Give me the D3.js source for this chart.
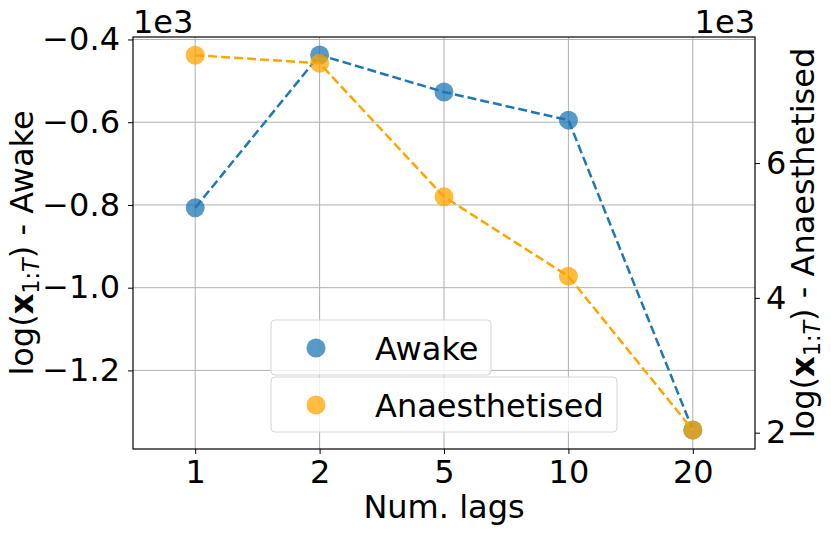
<!DOCTYPE html>
<html><head><meta charset="utf-8">
<script src="https://cdn.jsdelivr.net/npm/d3@7"></script>
<style>body{margin:0;background:#fff}svg{display:block}text{font-family:"DejaVu Sans",sans-serif}</style>
</head><body><svg id="c" width="831" height="534"></svg>
<script>
const lags = ["1","2","5","10","20"];
const awake = [-0.807, -0.4375, -0.527, -0.595, -1.344];      // x1e3
const anaes = [7.60, 7.48, 5.50, 4.32, 2.04];                 // x1e3
const leftTicks = [-1.2, -1.0, -0.8, -0.6, -0.4];
const rightTicks = [2, 4, 6];

const W=831,H=534, L=133, R=755, T=37, B=449;
const fs=32;
const svg=d3.select("#c");
const x=d3.scalePoint().domain(lags).range([L,R]).padding(0.5);
const yL=d3.scaleLinear().domain([-1.39,-0.394]).range([B,T]);
const yR=d3.scaleLinear().domain([1.758,7.87]).range([B,T]);

// grid
const g=svg.append("g");
g.selectAll(".gx").data(lags).join("line").attr("x1",d=>x(d)).attr("x2",d=>x(d)).attr("y1",T).attr("y2",B).attr("stroke","#b0b0b0").attr("stroke-width",1);
g.selectAll(".gy").data(leftTicks).join("line").attr("x1",L).attr("x2",R).attr("y1",d=>yL(d)).attr("y2",d=>yL(d)).attr("stroke","#b0b0b0").attr("stroke-width",1);

// axes
const fmtL=d=>(d<0?"\u2212":"")+Math.abs(d).toFixed(1);
const ax=svg.append("g").attr("transform",`translate(0,${B})`).call(d3.axisBottom(x).tickSize(5).tickPadding(5));
const ayl=svg.append("g").attr("transform",`translate(${L},0)`).call(d3.axisLeft(yL).tickValues(leftTicks).tickFormat(fmtL).tickSize(5).tickPadding(8));
const ayr=svg.append("g").attr("transform",`translate(${R},0)`).call(d3.axisRight(yR).tickValues(rightTicks).tickFormat(d3.format("d")).tickSize(5).tickPadding(6));
[ax,ayl,ayr].forEach(a=>{a.select(".domain").remove();a.selectAll("text").attr("font-size",fs).attr("fill","#000").attr("font-family","DejaVu Sans");a.selectAll("line").attr("stroke","#000").attr("stroke-width",1);});
ax.selectAll("text").attr("y",34).attr("dy",0);
svg.append("rect").attr("x",L).attr("y",T).attr("width",R-L).attr("height",B-T).attr("fill","none").attr("stroke","#000").attr("stroke-width",1.2);

// series
function series(vals,y,color){
  const line=d3.line().x((d,i)=>x(lags[i])).y(d=>y(d));
  svg.append("path").datum(vals).attr("d",line).attr("fill","none").attr("stroke",color).attr("stroke-width",2.5).attr("stroke-dasharray","9,4");
  svg.selectAll(null).data(vals).join("circle").attr("cx",(d,i)=>x(lags[i])).attr("cy",d=>y(d)).attr("r",9.5).attr("fill",color).attr("fill-opacity",0.75);
}
series(awake,yL,"#1f77b4");
series(anaes,yR,"#ffa500");

// 1e3 labels
svg.append("text").attr("x",L).attr("y",33).attr("font-size",fs).text("1e3");
svg.append("text").attr("x",R).attr("y",33).attr("font-size",fs).attr("text-anchor","end").text("1e3");

// axis titles
function ylabel(xp,suffix){
  const t=svg.append("text").attr("transform",`translate(${xp},${(T+B)/2}) rotate(-90)`).attr("text-anchor","middle").attr("font-size",fs);
  t.append("tspan").text("log(");
  t.append("tspan").attr("font-weight","bold").text("x");
  t.append("tspan").attr("font-size",fs*0.7).attr("dy",fs*0.2).text("1:");
  t.append("tspan").attr("font-size",fs*0.7).attr("font-style","italic").text("T");
  t.append("tspan").attr("dy",-fs*0.2).text(") - "+suffix);
}
ylabel(33,"Awake");
ylabel(814,"Anaesthetised");
svg.append("text").attr("x",(L+R)/2).attr("y",518).attr("text-anchor","middle").attr("font-size",fs).text("Num. lags");

// legends
const legends=[{label:"Awake",color:"#1f77b4",y:320,w:220},{label:"Anaesthetised",color:"#ffa500",y:377,w:346}];
legends.forEach(l=>{
  svg.append("rect").attr("x",271).attr("y",l.y).attr("width",l.w).attr("height",55).attr("rx",4).attr("fill","#fff").attr("fill-opacity",0.8).attr("stroke","#d6d6d6").attr("stroke-width",1);
  svg.append("circle").attr("cx",316).attr("cy",l.y+28).attr("r",9.5).attr("fill",l.color).attr("fill-opacity",0.75);
  svg.append("text").attr("x",375).attr("y",l.y+28).attr("dy","0.36em").attr("font-size",fs).text(l.label);
});
</script></body></html>
